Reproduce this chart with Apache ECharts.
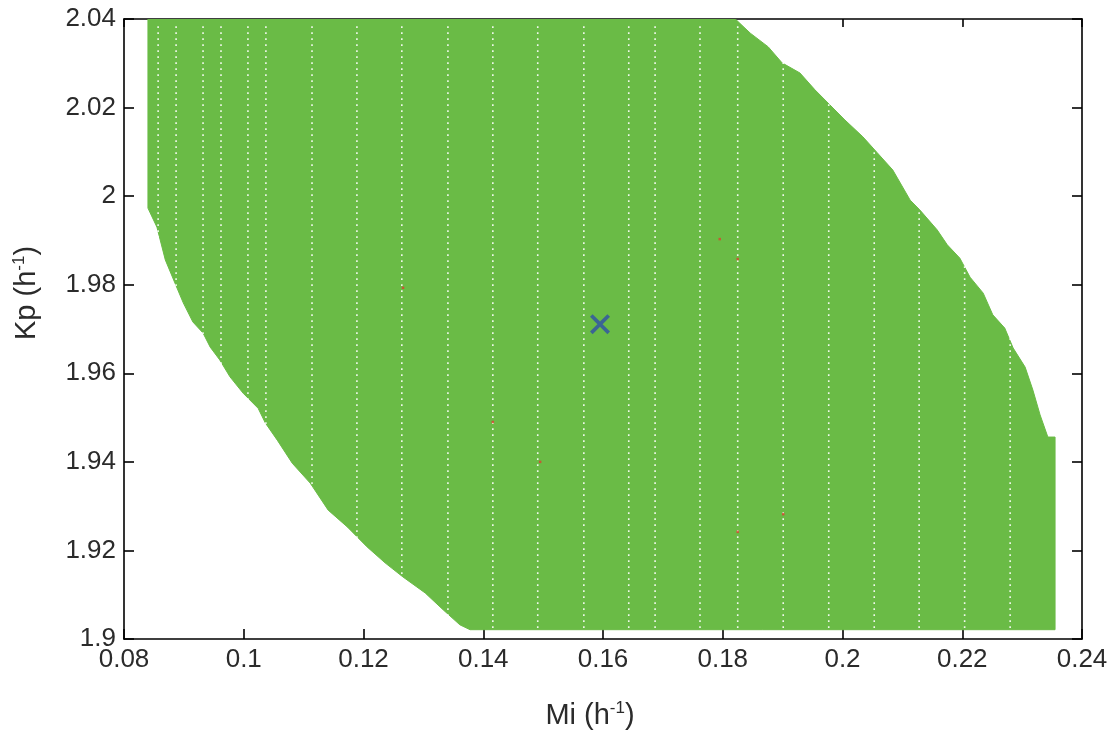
<!DOCTYPE html>
<html>
<head>
<meta charset="utf-8">
<script src="https://cdn.jsdelivr.net/npm/echarts@6/dist/echarts.min.js"></script>
<style>html,body{margin:0;padding:0;background:#fff}#chart{width:1120px;height:738px}</style>
</head>
<body>
<div id="chart"></div>
<script>
// Axis ranges / ticks
const miTicks = [0.08, 0.10, 0.12, 0.14, 0.16, 0.18, 0.20, 0.22, 0.24];
const kpTicks = [1.90, 1.92, 1.94, 1.96, 1.98, 2.00, 2.02, 2.04];

// Outline of the feasible (green) region, walked clockwise
const regionMi = [
  0.0840, 0.0840, 0.0855, 0.0869, 0.0885, 0.0899, 0.0915, 0.0932, 0.0944, 0.0960,
  0.0977, 0.0999, 0.1024, 0.1036, 0.1056, 0.1081, 0.1111, 0.1141, 0.1173, 0.1206,
  0.1236, 0.1266, 0.1303, 0.1333, 0.1361, 0.1378,
  0.2355, 0.2355,
  0.2343, 0.2330, 0.2318, 0.2305, 0.2285, 0.2271, 0.2251, 0.2235, 0.2213, 0.2196,
  0.2175, 0.2158, 0.2129, 0.2113, 0.2084, 0.2058, 0.2034, 0.2004, 0.1979, 0.1954,
  0.1929, 0.1899, 0.1876, 0.1846, 0.1821
];
const regionKp = [
  2.0400, 1.9973, 1.9930, 1.9856, 1.9804, 1.9759, 1.9716, 1.9691, 1.9659, 1.9630,
  1.9592, 1.9555, 1.9521, 1.9488, 1.9449, 1.9397, 1.9352, 1.9291, 1.9253, 1.9208,
  1.9172, 1.9140, 1.9104, 1.9066, 1.9032, 1.9021,
  1.9021, 1.9456,
  1.9456, 1.9506, 1.9562, 1.9614, 1.9657, 1.9702, 1.9732, 1.9781, 1.9817, 1.9860,
  1.9890, 1.9924, 1.9969, 1.9991, 2.0059, 2.0098, 2.0134, 2.0172, 2.0206, 2.0240,
  2.0278, 2.0301, 2.0337, 2.0368, 2.0400
];

// Mi values of the grid columns that show as white dotted lines
const gapColumnsMi = [
  0.0857, 0.0887, 0.0932, 0.0962, 0.1007, 0.1037, 0.1114, 0.1189, 0.1264, 0.1341,
  0.1416, 0.1491, 0.1568, 0.1643, 0.1687, 0.1762, 0.1825, 0.1901, 0.1977, 0.2053,
  0.2128, 0.2204, 0.2280
];

// Isolated red points
const redMi = [0.1266, 0.1795, 0.1825, 0.1416, 0.1495, 0.1825, 0.1901];
const redKp = [1.9793, 1.9903, 1.9858, 1.9490, 1.9400, 1.9242, 1.9282];

// Nominal point (blue cross)
const nominalMi = [0.1595];
const nominalKp = [1.9711];

const GREEN = '#6abb46';
const TEXT = '#2b2b2b';
const FONT = 'Liberation Sans, Arial, sans-serif';

const regionData = regionMi.map((m, i) => [m, regionKp[i]]);
const gapData = gapColumnsMi.map(m => [m]);
const redData = redMi.map((m, i) => [m, redKp[i]]);
const nominalData = nominalMi.map((m, i) => [m, nominalKp[i]]);

const chart = echarts.init(document.getElementById('chart'), null, {renderer: 'canvas'});

const axisLineStyle = {color: '#000', width: 1.6};
const crossPath = 'path://M0,2.6 L2.6,0 L10,7.4 L17.4,0 L20,2.6 L12.6,10 L20,17.4 L17.4,20 L10,12.6 L2.6,20 L0,17.4 L7.4,10 Z';

chart.setOption({
  backgroundColor: '#fff',
  animation: false,
  grid: {left: 124, right: 38, top: 19, bottom: 99, containLabel: false},
  xAxis: [{
    type: 'value', min: miTicks[0], max: miTicks[miTicks.length - 1], interval: 0.02,
    position: 'bottom',
    axisLine: {show: true, onZero: false, lineStyle: axisLineStyle},
    axisTick: {show: true, inside: true, length: 10, lineStyle: axisLineStyle},
    axisLabel: {show: true, color: TEXT, fontSize: 26, fontFamily: FONT, margin: 8},
    splitLine: {show: false},
    name: 'Mi (h{sup|-1})', nameLocation: 'middle', nameGap: 61,
    nameTextStyle: {color: TEXT, fontSize: 29, fontFamily: FONT, padding: [0, 26, 0, 0],
      rich: {sup: {fontSize: 17, fontFamily: FONT, color: TEXT, verticalAlign: 'top', padding: [0, 0, 14, 0]}}}
  }, {
    type: 'value', min: miTicks[0], max: miTicks[miTicks.length - 1], interval: 0.02,
    position: 'top',
    axisLine: {show: true, onZero: false, lineStyle: axisLineStyle},
    axisTick: {show: true, inside: true, length: 8, lineStyle: axisLineStyle},
    axisLabel: {show: false}, splitLine: {show: false}
  }],
  yAxis: [{
    type: 'value', min: kpTicks[0], max: kpTicks[kpTicks.length - 1], interval: 0.02,
    position: 'left',
    axisLine: {show: true, onZero: false, lineStyle: axisLineStyle},
    axisTick: {show: true, inside: true, length: 10, lineStyle: axisLineStyle},
    axisLabel: {show: true, color: TEXT, fontSize: 26, fontFamily: FONT, margin: 8},
    splitLine: {show: false},
    name: 'Kp (h{sup|-1})', nameLocation: 'middle', nameGap: 82, nameRotate: 90,
    nameTextStyle: {color: TEXT, fontSize: 29, fontFamily: FONT, padding: [0, 0, 0, 72],
      rich: {sup: {fontSize: 17, fontFamily: FONT, color: TEXT, verticalAlign: 'top', padding: [0, 0, 14, 0]}}}
  }, {
    type: 'value', min: kpTicks[0], max: kpTicks[kpTicks.length - 1], interval: 0.02,
    position: 'right',
    axisLine: {show: true, onZero: false, lineStyle: axisLineStyle},
    axisTick: {show: true, inside: true, length: 10, lineStyle: axisLineStyle},
    axisLabel: {show: false}, splitLine: {show: false}
  }],
  series: [
    {
      name: 'feasible region', type: 'custom', xAxisIndex: 0, yAxisIndex: 0,
      data: regionData, encode: {x: 0, y: 1}, clip: true, z: 1,
      renderItem: function (params, api) {
        if (params.dataIndex !== 0) return null;
        const pts = regionData.map(p => api.coord(p));
        return {type: 'polygon', shape: {points: pts}, style: {fill: GREEN, stroke: GREEN, lineWidth: 1}};
      }
    },
    {
      name: 'grid gaps', type: 'custom', xAxisIndex: 0, yAxisIndex: 0,
      data: gapData, encode: {x: 0}, clip: true, z: 2,
      renderItem: function (params, api) {
        const m = api.value(0);
        const a = api.coord([m, 1.9025]);
        const b = api.coord([m, 2.0393]);
        return {type: 'line', shape: {x1: a[0], y1: a[1], x2: b[0], y2: b[1]},
          style: {stroke: 'rgba(255,255,255,0.9)', lineWidth: 1.6, lineDash: [1.6, 4.4]}};
      }
    },
    {
      name: 'red', type: 'scatter', xAxisIndex: 0, yAxisIndex: 0,
      data: redData, symbol: 'rect', symbolSize: 2.5, z: 3,
      itemStyle: {color: '#d9442f'}
    },
    {
      name: 'nominal', type: 'scatter', xAxisIndex: 0, yAxisIndex: 0,
      data: nominalData, symbol: crossPath, symbolSize: 20, z: 4,
      itemStyle: {color: '#3050a8'}
    }
  ]
});
</script>
</body>
</html>
